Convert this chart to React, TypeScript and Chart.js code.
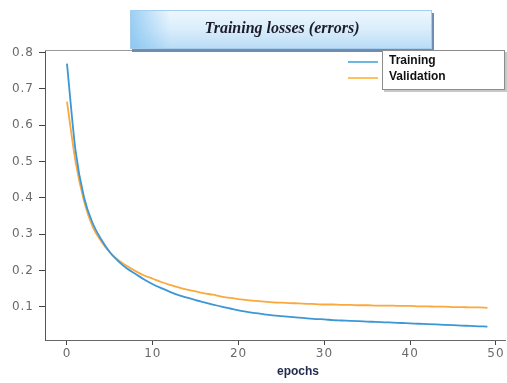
import React, { useEffect, useRef } from "react";
import { Chart, registerables } from "chart.js";

Chart.register(...registerables);

const epochs: number[] = Array.from({ length: 50 }, (_, i) => i);

const trainingLoss: number[] = [
  0.77, 0.53, 0.4, 0.33, 0.285, 0.25, 0.225, 0.205, 0.19, 0.175,
  0.162, 0.151, 0.141, 0.132, 0.125, 0.118, 0.112, 0.106, 0.1, 0.095,
  0.09, 0.086, 0.082, 0.079, 0.076, 0.074, 0.072, 0.07, 0.068, 0.066,
  0.065, 0.063, 0.062, 0.061, 0.06, 0.059, 0.058, 0.057, 0.056, 0.055,
  0.054, 0.053, 0.052, 0.051, 0.05, 0.049, 0.048, 0.047, 0.046, 0.045,
];

const validationLoss: number[] = [
  0.665, 0.5, 0.39, 0.32, 0.28, 0.25, 0.228, 0.212, 0.198, 0.186,
  0.177, 0.168, 0.16, 0.153, 0.147, 0.142, 0.137, 0.133, 0.128, 0.124,
  0.121, 0.118, 0.116, 0.114, 0.112, 0.111, 0.11, 0.109, 0.108, 0.107,
  0.106, 0.106, 0.105, 0.105, 0.104, 0.104, 0.103, 0.103, 0.103, 0.102,
  0.102, 0.101, 0.101, 0.1, 0.1, 0.099, 0.099, 0.098, 0.098, 0.097,
];

const xTicks: number[] = [0, 10, 20, 30, 40, 50];
const yTicks: number[] = [0.1, 0.2, 0.3, 0.4, 0.5, 0.6, 0.7, 0.8];

const titleText = "Training losses (errors)";
const legendLabels: string[] = ["Training", "Validation"];
const xAxisLabel = "epochs";

const TRAIN_COLOR = "#3b97d6";
const VAL_COLOR = "#fba83c";

const decorPlugin = {
  id: "decor",
  beforeDraw(chart: any) {
    (chart.ctx as any).letterSpacing = "1px";
  },
  afterDraw(chart: any) {
    const ctx = chart.ctx as CanvasRenderingContext2D;
    const area = chart.chartArea;
    ctx.save();
    (ctx as any).letterSpacing = "0px";
    // top spine
    ctx.strokeStyle = "#9a9a9a";
    ctx.lineWidth = 1;
    ctx.beginPath();
    ctx.moveTo(area.left, area.top + 0.5);
    ctx.lineTo(area.right, area.top + 0.5);
    ctx.stroke();

    // title box
    const bx = 130, by = 10, bw = 302, bh = 39;
    ctx.fillStyle = "#6f8db0";
    ctx.fillRect(bx + 2, by + 3, bw, bh);
    const g = ctx.createLinearGradient(0, by, 0, by + bh);
    g.addColorStop(0, "#eef7fe");
    g.addColorStop(0.5, "#d9edfb");
    g.addColorStop(1, "#b9dcf6");
    ctx.fillStyle = g;
    ctx.fillRect(bx, by, bw, bh);
    const gl = ctx.createLinearGradient(bx, 0, bx + 40, 0);
    gl.addColorStop(0, "rgba(120,190,240,0.7)");
    gl.addColorStop(1, "rgba(120,190,240,0)");
    ctx.fillStyle = gl;
    ctx.fillRect(bx, by, 40, bh);
    ctx.strokeStyle = "#a5cdee";
    ctx.strokeRect(bx + 0.5, by + 0.5, bw - 1, bh - 1);
    ctx.fillStyle = "#1d1d2a";
    ctx.font = 'bold italic 16px "Liberation Serif"';
    ctx.textAlign = "center";
    ctx.textBaseline = "middle";
    ctx.fillText(titleText, 282, 29);

    // legend
    const lx = 382, ly = 50, lw = 123, lh = 40;
    ctx.fillStyle = "#c8c8c8";
    ctx.fillRect(lx + 2, ly + 2, lw, lh);
    ctx.fillStyle = "#ffffff";
    ctx.fillRect(lx, ly, lw, lh);
    ctx.strokeStyle = "#8c8c8c";
    ctx.strokeRect(lx + 0.5, ly + 0.5, lw - 1, lh - 1);
    ctx.lineWidth = 2;
    ctx.strokeStyle = "#6db8e0";
    ctx.beginPath();
    ctx.moveTo(348, 62);
    ctx.lineTo(378, 62);
    ctx.stroke();
    ctx.strokeStyle = "#ffc15e";
    ctx.beginPath();
    ctx.moveTo(348, 78);
    ctx.lineTo(378, 78);
    ctx.stroke();
    ctx.fillStyle = "#111111";
    ctx.font = 'bold 12px "Liberation Sans"';
    ctx.textAlign = "left";
    ctx.textBaseline = "middle";
    ctx.fillText(legendLabels[0], 389, 61);
    ctx.fillText(legendLabels[1], 389, 77);

    // x axis label
    ctx.fillStyle = "#1f2a4d";
    ctx.font = 'bold 12px "Liberation Sans"';
    ctx.textAlign = "center";
    ctx.fillText(xAxisLabel, 298, 372);
    ctx.restore();
  },
};

export default function App() {
  const canvasRef = useRef<HTMLCanvasElement | null>(null);

  useEffect(() => {
    if (!canvasRef.current) return;
    const chart = new Chart(canvasRef.current, {
      type: "line",
      data: {
        datasets: [
          {
            label: legendLabels[0],
            data: epochs.map((e, i) => ({ x: e, y: trainingLoss[i] })),
            borderColor: TRAIN_COLOR,
            borderWidth: 1.8,
            pointRadius: 0,
            cubicInterpolationMode: "monotone",
          },
          {
            label: legendLabels[1],
            data: epochs.map((e, i) => ({ x: e, y: validationLoss[i] })),
            borderColor: VAL_COLOR,
            borderWidth: 1.8,
            pointRadius: 0,
            cubicInterpolationMode: "monotone",
          },
        ],
      },
      options: {
        responsive: false,
        animation: false,
        devicePixelRatio: 1,
        layout: { padding: { top: 50, right: 2, left: 0, bottom: 0 } },
        plugins: {
          legend: { display: false },
          title: { display: false },
          tooltip: { enabled: false },
        },
        scales: {
          x: {
            type: "linear",
            min: -2.56,
            max: 51.05,
            afterBuildTicks: (scale: any) => {
              scale.ticks = xTicks.map((v) => ({ value: v }));
            },
            afterFit: (scale: any) => {
              scale.height = 43;
            },
            border: { display: true, color: "#666666", width: 1 },
            grid: {
              drawOnChartArea: false,
              drawTicks: true,
              tickLength: 5,
              color: "#444444",
            },
            ticks: {
              color: "#6a6a6a",
              font: { family: "DejaVu Sans", size: 12 },
              padding: 2,
              maxRotation: 0,
              autoSkip: false,
            },
          },
          y: {
            type: "linear",
            min: 0.0082,
            max: 0.8074,
            afterBuildTicks: (scale: any) => {
              scale.ticks = yTicks.map((v) => ({ value: v }));
            },
            afterFit: (scale: any) => {
              scale.width = 45;
            },
            border: { display: true, color: "#555555", width: 1 },
            grid: {
              drawOnChartArea: false,
              drawTicks: true,
              tickLength: 6,
              color: "#444444",
            },
            ticks: {
              color: "#6a6a6a",
              font: { family: "DejaVu Sans", size: 12 },
              padding: 5,
              autoSkip: false,
              callback: (v: any) => Number(v).toFixed(1),
            },
          },
        },
      },
      plugins: [decorPlugin],
    });
    return () => chart.destroy();
  }, []);

  return (
    <div style={{ position: "absolute", left: 0, top: 0, width: 507, height: 383, background: "#fff" }}>
      <canvas ref={canvasRef} width={507} height={383} />
    </div>
  );
}
